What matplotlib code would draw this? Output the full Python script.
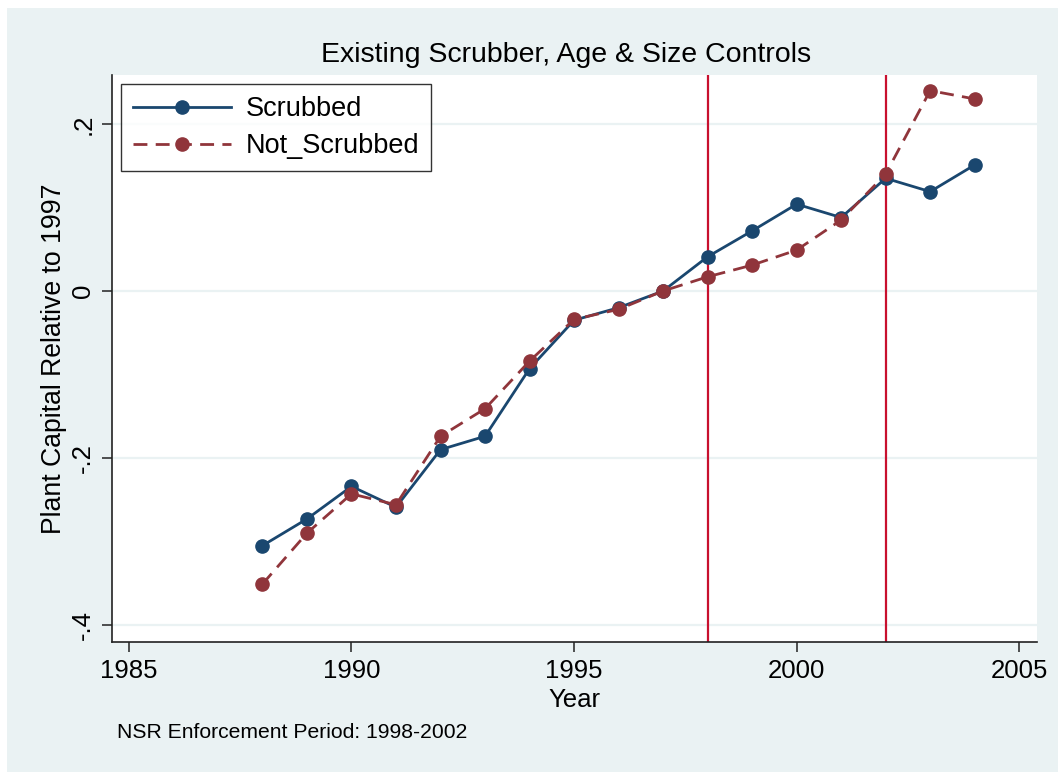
import numpy as np
import matplotlib
matplotlib.use("Agg")
import matplotlib.pyplot as plt
from matplotlib.patches import Rectangle

plt.rcParams['font.family'] = ['Liberation Sans', 'DejaVu Sans']

years = list(range(1988, 2005))
scrubbed = [-0.305, -0.273, -0.234, -0.259, -0.190, -0.174, -0.093, -0.035, -0.020,
            0.0, 0.041, 0.072, 0.104, 0.088, 0.135, 0.119, 0.151]
not_scrubbed = [-0.351, -0.290, -0.243, -0.256, -0.174, -0.141, -0.084, -0.034, -0.022,
                0.0, 0.017, 0.031, 0.049, 0.085, 0.140, 0.240, 0.230]
enforcement_years = [1998, 2002]
x_ticks = [1985, 1990, 1995, 2000, 2005]
y_ticks = [-0.4, -0.2, 0.0, 0.2]
y_ticklabels = ['-.4', '-.2', '0', '.2']

bg = '#EAF2F3'
navy = '#1A476F'
maroon = '#90353B'
vred = '#C8102E'

W, H = 1058, 772
fig = plt.figure(figsize=(W / 100, H / 100), dpi=100, facecolor='white')
fig.patches.append(Rectangle((7 / W, 0), 1 - 7 / W, 1 - 8 / H,
                             transform=fig.transFigure, facecolor=bg,
                             edgecolor='none', zorder=-10))

ax = fig.add_axes([112 / W, 1 - 642 / H, (1037 - 112) / W, (642 - 75) / H])
ax.set_facecolor('white')

for yv in y_ticks:
    ax.axhline(yv, color=bg, lw=1.6, zorder=1)
for xv in enforcement_years:
    ax.axvline(xv, color=vred, lw=1.6, zorder=2)

ax.plot(years, scrubbed, color=navy, lw=2.0, marker='o', ms=9.5,
        label='Scrubbed', zorder=3)
ax.plot(years, not_scrubbed, color=maroon, lw=2.0, ls=(0, (5, 3)), marker='o',
        ms=9.5, label='Not_Scrubbed', zorder=4)

ax.set_xlim(1984.62, 2005.4)
ax.set_ylim(-0.4204, 0.2587)
ax.set_xticks(x_ticks)
ax.set_yticks(y_ticks)
ax.set_yticklabels(y_ticklabels, rotation=90, va='center')

for s in ['top', 'right']:
    ax.spines[s].set_visible(False)
for s in ['left', 'bottom']:
    ax.spines[s].set_color('#222222')
    ax.spines[s].set_linewidth(1.2)
ax.tick_params(axis='both', length=7, width=1.1, color='#222222',
               labelsize=18.5, pad=5)

ax.set_xlabel('Year', fontsize=18.5, labelpad=4)
ax.set_ylabel('Plant Capital Relative to 1997', fontsize=19.2, labelpad=3)
ax.set_title('Existing Scrubber, Age & Size Controls', fontsize=20.5, pad=9,
             x=0.491)

leg = ax.legend(loc='upper left', bbox_to_anchor=(9 / 925, 1 - 9 / 567),
                fontsize=19.5, frameon=True, fancybox=False, borderpad=0.45,
                handlelength=3.6, handletextpad=0.55, labelspacing=0.4,
                borderaxespad=0)
leg.get_frame().set_edgecolor('black')
leg.get_frame().set_linewidth(1.0)

fig.text(117 / W, 1 - 733 / H, 'NSR Enforcement Period: 1998-2002',
         fontsize=15.2, va='center', ha='left')

fig.savefig('out.png', dpi=100, facecolor=fig.get_facecolor())
